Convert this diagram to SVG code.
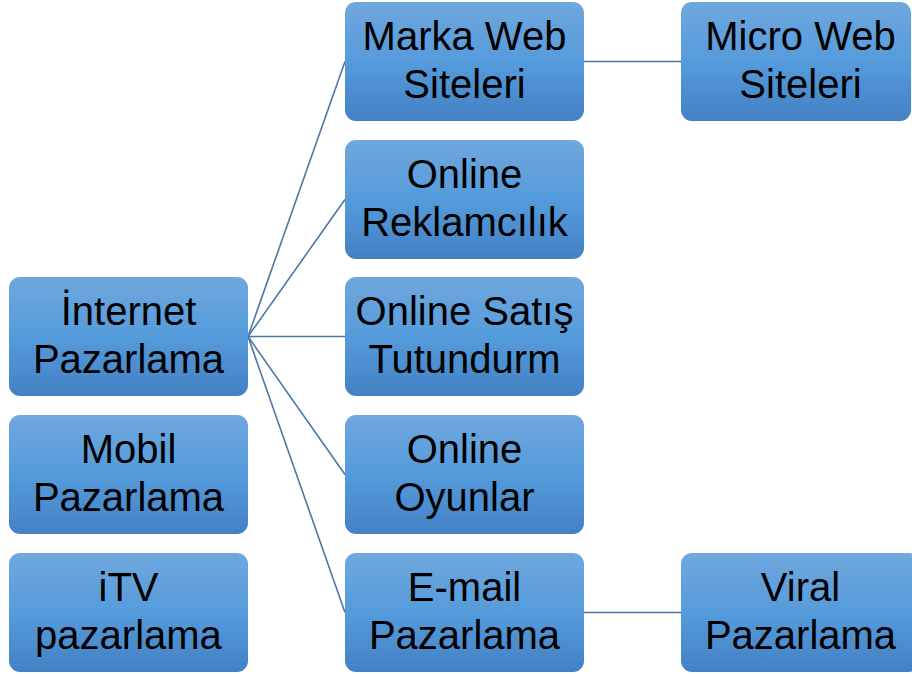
<svg xmlns="http://www.w3.org/2000/svg" width="912" height="677" viewBox="0 0 912 677">
<defs>
<linearGradient id="g" x1="0" y1="0" x2="0" y2="1">
<stop offset="0" stop-color="#70a7de"/>
<stop offset="0.5" stop-color="#559bdb"/>
<stop offset="1" stop-color="#4381c4"/>
</linearGradient>
<style>
.box{fill:url(#g);}
.t{font-family:"Liberation Sans",Arial,sans-serif;font-size:40px;fill:#000;text-anchor:middle;}
.c{stroke:#4a76a8;stroke-width:1.6;fill:none;}
</style>
</defs>
<rect width="912" height="677" fill="#fff"/>
<g id="connectors">
<line class="c" x1="248" y1="336.5" x2="345" y2="61.5"/>
<line class="c" x1="248" y1="336.5" x2="345" y2="199.5"/>
<line class="c" x1="248" y1="336.5" x2="345" y2="336.5"/>
<line class="c" x1="248" y1="336.5" x2="345" y2="474.5"/>
<line class="c" x1="248" y1="336.5" x2="345" y2="612.5"/>
<line class="c" x1="584" y1="61.5" x2="681" y2="61.5"/>
<line class="c" x1="584" y1="612.5" x2="681" y2="612.5"/>
</g>
<g id="internet"><rect class="box" x="9" y="277" width="239" height="119" rx="11"/><text class="t" x="128.5" y="325">İnternet</text><text class="t" x="128.5" y="373">Pazarlama</text></g>
<g id="mobil"><rect class="box" x="9" y="415" width="239" height="119" rx="11"/><text class="t" x="128.5" y="463">Mobil</text><text class="t" x="128.5" y="511">Pazarlama</text></g>
<g id="itv"><rect class="box" x="9" y="553" width="239" height="119" rx="11"/><text class="t" x="128.5" y="601">iTV</text><text class="t" x="128.5" y="649">pazarlama</text></g>
<g id="marka"><rect class="box" x="345" y="2" width="239" height="119" rx="11"/><text class="t" x="464.5" y="50">Marka Web</text><text class="t" x="464.5" y="98">Siteleri</text></g>
<g id="reklam"><rect class="box" x="345" y="140" width="239" height="119" rx="11"/><text class="t" x="464.5" y="188">Online</text><text class="t" x="464.5" y="236">Reklamcılık</text></g>
<g id="satis"><rect class="box" x="345" y="277" width="239" height="119" rx="11"/><text class="t" x="464.5" y="325">Online Satış</text><text class="t" x="464.5" y="373">Tutundurm</text></g>
<g id="oyun"><rect class="box" x="345" y="415" width="239" height="119" rx="11"/><text class="t" x="464.5" y="463">Online</text><text class="t" x="464.5" y="511">Oyunlar</text></g>
<g id="email"><rect class="box" x="345" y="553" width="239" height="119" rx="11"/><text class="t" x="464.5" y="601">E-mail</text><text class="t" x="464.5" y="649">Pazarlama</text></g>
<g id="micro"><rect class="box" x="681" y="2" width="230" height="119" rx="11"/><text class="t" x="800.5" y="50">Micro Web</text><text class="t" x="800.5" y="98">Siteleri</text></g>
<g id="viral"><rect class="box" x="681" y="553" width="239" height="119" rx="11"/><text class="t" x="800.5" y="601">Viral</text><text class="t" x="800.5" y="649">Pazarlama</text></g>
</svg>
